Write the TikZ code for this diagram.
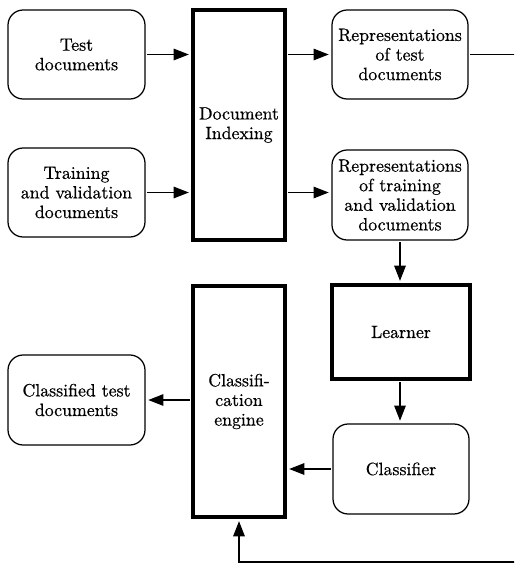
\documentclass[tikz,border=0pt]{standalone}
\usepackage{fontspec}
\setmainfont{Latin Modern Roman}[FakeBold=0.6]
\usetikzlibrary{arrows.meta}
\begin{document}
\begin{tikzpicture}[x=0.5617pt,y=-0.5617pt,
  sz/.style 2 args={minimum width=#1*0.5617pt, minimum height=#2*0.5617pt},
  txt/.style={align=center, font=\fontsize{10}{11}\selectfont, inner sep=0pt},
  rbox/.style={txt, draw, line width=0.7pt, rounded corners=8.5pt},
  tbox/.style={txt, draw, line width=1.7pt},
  arr/.style={line width=0.6pt, -{Triangle[length=8.5pt,width=6.5pt]}, shorten >=1.5pt, shorten <=1pt},
  plain/.style={line width=0.6pt}]
\useasboundingbox (0,0) rectangle (514,563);
\clip (0,0) rectangle (514,563);
\node[rbox, sz={137}{89}] (test) at (76.5,54.5) {Test\\documents};
\node[rbox, sz={137}{89}] (train) at (76.5,192.5) {Training\\and validation\\documents};
\node[tbox, sz={92}{230}] (idx) at (239,125) {Document\\Indexing};
\node[rbox, sz={136}{89}] (reptest) at (400,54.5) {Representations\\of test\\documents};
\node[rbox, sz={136}{90}] (reptrain) at (400,195) {Representations\\of training\\and validation\\documents};
\node[tbox, sz={138}{94}] (learner) at (401,332) {Learner};
\node[rbox, sz={136}{90}] (classifier) at (401,469) {Classifier};
\node[tbox, sz={92}{231}] (engine) at (239,401.5) {Classifi-\\cation\\engine};
\node[rbox, sz={137}{90}] (classified) at (76.5,400) {Classified test\\documents};
\coordinate (bot) at (240,562);
\draw[arr] (test.east) -- (test.east -| idx.west);
\draw[arr] (train.east) -- (train.east -| idx.west);
\draw[arr] (idx.east |- test.east) -- (reptest.west |- test.east);
\draw[arr] (idx.east |- train.east) -- (reptrain.west |- train.east);
\draw[arr] (reptrain.south -| 400,0) -- (learner.north -| 400,0);
\draw[arr] (learner.south -| 400,0) -- (classifier.north -| 400,0);
\draw[arr] (classifier.west) -- (classifier.west -| engine.east);
\draw[arr] (engine.west |- classified.east) -- (classified.east);
\draw[arr] (reptest.east) -- ++(62,0) |- (engine.south |- bot) -- (engine.south);
\end{tikzpicture}
\end{document}
